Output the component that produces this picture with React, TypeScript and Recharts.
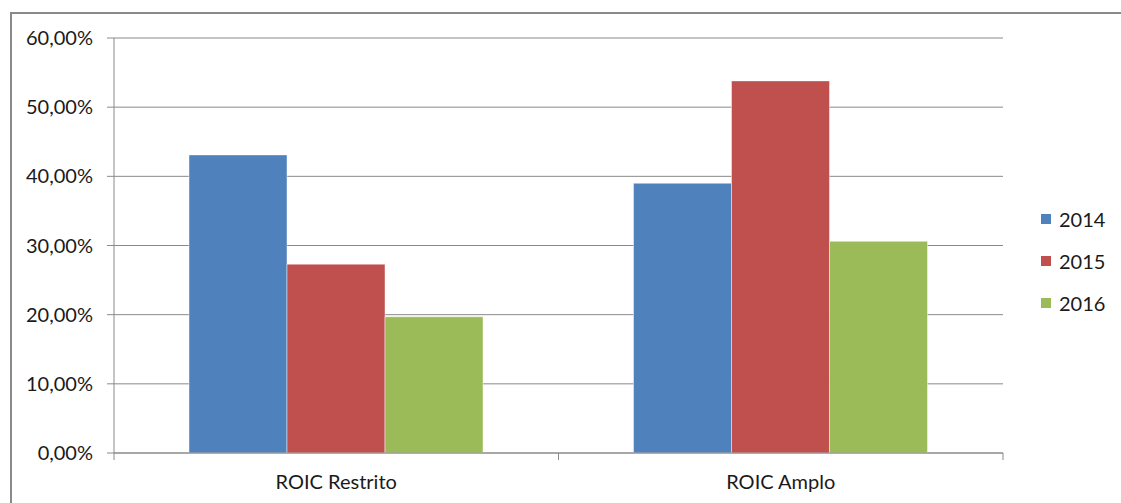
import React from 'react';
import { BarChart, Bar, XAxis, YAxis, CartesianGrid } from 'recharts';

const categories = ['ROIC Restrito', 'ROIC Amplo'];
const years = ['2014', '2015', '2016'];
const colors = ['#4F81BD', '#C0504D', '#9BBB59'];
const roic2014 = [0.431, 0.39];
const roic2015 = [0.273, 0.538];
const roic2016 = [0.197, 0.306];
const yTicks = [0, 0.1, 0.2, 0.3, 0.4, 0.5, 0.6];

const seriesValues = [roic2014, roic2015, roic2016];

const data = categories.map((name, i) => {
  const row: Record<string, string | number> = { name };
  years.forEach((year, s) => {
    row[year] = seriesValues[s][i];
  });
  return row;
});

const FONT = 'Lato, Carlito, Calibri, sans-serif';
const TEXT = '#1a1a1a';
const LINE = '#8a8a8a';

const pct = (v: number) => `${(v * 100).toFixed(2).replace('.', ',')}%`;

// category label plus the tick marks on the category boundaries
const CategoryTick = (props: any) => {
  const { x, y, payload, index, width } = props;
  const half = payload?.offset || width / categories.length / 2;
  const isLast = index === categories.length - 1;
  return (
    <g>
      <line x1={x - half} x2={x - half} y1={y} y2={y + 7} stroke={LINE} />
      {isLast && <line x1={x + half} x2={x + half} y1={y} y2={y + 7} stroke={LINE} />}
      <text x={x} y={y + 36} textAnchor="middle" fill={TEXT} fontSize={20} fontFamily={FONT}>
        {payload.value}
      </text>
    </g>
  );
};

const App: React.FC = () => {
  return (
    <div
      style={{
        position: 'fixed',
        left: 0,
        top: 0,
        width: 1121,
        height: 503,
        overflow: 'hidden',
        background: '#fff',
      }}
    >
      <div
        style={{
          position: 'absolute',
          left: 10,
          top: 12,
          width: 1200,
          height: 600,
          border: `2px solid ${LINE}`,
        }}
      />
      <div style={{ position: 'absolute', left: 0, top: 0 }}>
        <BarChart
          width={1121}
          height={503}
          data={data}
          margin={{ top: 38, right: 118, bottom: 0, left: 0 }}
          barGap={0}
          barSize={98}
        >
          <CartesianGrid vertical={false} stroke={LINE} strokeWidth={1} />
          <XAxis
            dataKey="name"
            height={50}
            axisLine={{ stroke: LINE }}
            tickLine={false}
            tickSize={0}
            tickMargin={0}
            tick={<CategoryTick />}
            interval={0}
          />
          <YAxis
            width={114}
            domain={[0, 0.6]}
            ticks={yTicks}
            interval={0}
            tickFormatter={pct}
            axisLine={{ stroke: LINE }}
            tickLine={{ stroke: LINE }}
            tickSize={7}
            tickMargin={14}
            tick={{ fill: TEXT, fontSize: 20, fontFamily: FONT }}
          />
          {years.map((year, s) => (
            <Bar
              key={year}
              dataKey={year}
              fill={colors[s]}
              stroke="rgba(255,255,255,0.45)"
              strokeWidth={1}
              isAnimationActive={false}
            />
          ))}
        </BarChart>
      </div>
      <div style={{ position: 'absolute', left: 1041, top: 198, fontFamily: FONT, fontSize: 20, color: TEXT }}>
        {years.map((year, s) => (
          <div key={year} style={{ display: 'flex', alignItems: 'center', height: 42 }}>
            <span style={{ width: 10, height: 10, background: colors[s], marginRight: 8 }} />
            <span>{year}</span>
          </div>
        ))}
      </div>
    </div>
  );
};

export default App;
